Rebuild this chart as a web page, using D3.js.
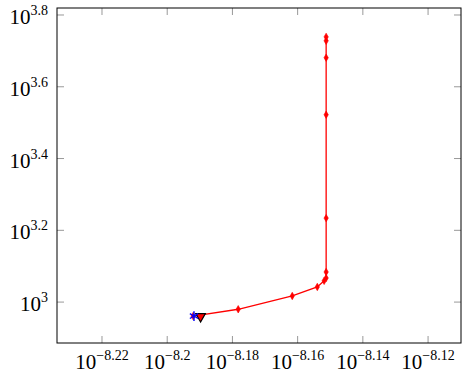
<!DOCTYPE html>
<html>
<head>
<meta charset="utf-8">
<script src="https://cdn.jsdelivr.net/npm/d3@7"></script>
<style>
  body { margin: 0; background: #fff; }
</style>
</head>
<body>
<div id="chart"></div>
<script>
// red path (x, y values)
var pathX = [6.426e-9, 6.634e-9, 6.892e-9, 7.015e-9, 7.049e-9, 7.059e-9, 7.059e-9, 7.059e-9, 7.059e-9, 7.059e-9, 7.059e-9, 7.059e-9];
var pathY = [914, 955, 1040, 1102, 1146, 1167, 1213, 1714, 3327, 4797, 5346, 5483];
// start marker (blue star) and end-of-step marker (triangle)
var startPt = [6.43e-9, 914];
var triPt = [6.46e-9, 912];
// tick exponents
var xTickExp = [-8.22, -8.2, -8.18, -8.16, -8.14, -8.12];
var yTickExp = [3, 3.2, 3.4, 3.6, 3.8];

var W = 468, H = 376;
var margin = {top: 8, right: 7, bottom: 33, left: 57},
    width = W - margin.left - margin.right,
    height = H - margin.top - margin.bottom;
var serif = "'Liberation Serif', 'Times New Roman', serif";

var svg = d3.select("#chart").append("svg")
    .attr("width", W).attr("height", H)
  .append("g")
    .attr("transform", "translate(" + margin.left + "," + margin.top + ")");

var x = d3.scaleLog()
    .domain([Math.pow(10, -8.2338), Math.pow(10, -8.1099)])
    .range([0, width]);
var y = d3.scaleLog()
    .domain([Math.pow(10, 2.886), Math.pow(10, 3.8195)])
    .range([height, 0]);

var tickLen = 7;
// x ticks bottom and top
xTickExp.forEach(function(e){
    var px = x(Math.pow(10, e));
    svg.append("line").attr("x1", px).attr("x2", px).attr("y1", height).attr("y2", height - tickLen)
        .attr("stroke", "#999").attr("stroke-width", 1);
    svg.append("line").attr("x1", px).attr("x2", px).attr("y1", 0).attr("y2", tickLen)
        .attr("stroke", "#999").attr("stroke-width", 1);
    var t = svg.append("text").attr("x", px).attr("y", height + 26)
        .attr("text-anchor", "middle").attr("font-family", serif).attr("font-size", 21);
    t.append("tspan").text("10");
    t.append("tspan").attr("dy", -9).attr("font-size", 14).text("\u2212" + String(-e));
});
// y ticks left and right
yTickExp.forEach(function(e){
    var py = y(Math.pow(10, e));
    svg.append("line").attr("x1", 0).attr("x2", tickLen).attr("y1", py).attr("y2", py)
        .attr("stroke", "#999").attr("stroke-width", 1);
    svg.append("line").attr("x1", width).attr("x2", width - tickLen).attr("y1", py).attr("y2", py)
        .attr("stroke", "#999").attr("stroke-width", 1);
    var t = svg.append("text").attr("x", -9).attr("y", py + 9)
        .attr("text-anchor", "end").attr("font-family", serif).attr("font-size", 21);
    t.append("tspan").text("10");
    t.append("tspan").attr("dy", -9).attr("font-size", 14).text(String(e));
});

// frame
svg.append("rect").attr("x", 0).attr("y", 0).attr("width", width).attr("height", height)
    .attr("fill", "none").attr("stroke", "#000").attr("stroke-width", 1);

var pts = pathX.map(function(v, i){ return [v, pathY[i]]; });

svg.append("path")
    .datum(pts)
    .attr("fill", "none")
    .attr("stroke", "#ff0000")
    .attr("stroke-width", 1.3)
    .attr("d", d3.line().x(d => x(d[0])).y(d => y(d[1])));

svg.append("g").selectAll("path")
    .data(pts)
    .enter()
    .append("path")
    .attr("transform", d => "translate(" + x(d[0]) + "," + y(d[1]) + ")")
    .attr("d", d3.symbol(d3.symbolDiamond, 16))
    .attr("fill", "#ff0000")
    .attr("stroke", "#ff0000")
    .attr("stroke-width", 0.6);

svg.append("path")
    .attr("transform", "translate(" + x(triPt[0]) + "," + y(triPt[1]) + ") rotate(180)")
    .attr("d", d3.symbol(d3.symbolTriangle, 40))
    .attr("fill", "#ff0000")
    .attr("stroke", "#000")
    .attr("stroke-width", 1.2);

svg.append("path")
    .attr("transform", "translate(" + x(startPt[0]) + "," + y(startPt[1]) + ")")
    .attr("d", d3.symbol(d3.symbolAsterisk, 64))
    .attr("fill", "none")
    .attr("stroke", "#0000ff")
    .attr("stroke-width", 1.4);
</script>
</body>
</html>
